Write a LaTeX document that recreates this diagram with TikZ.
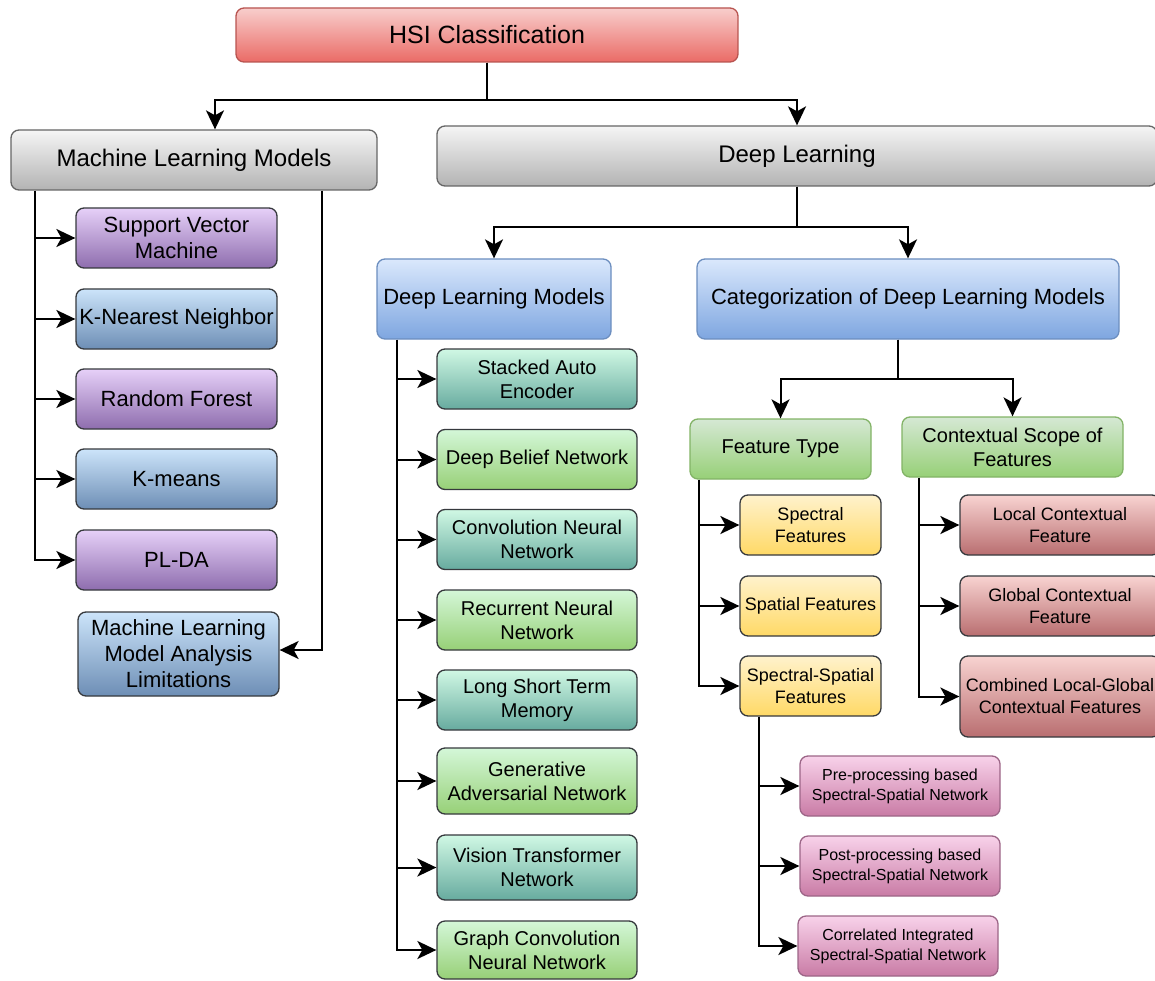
\documentclass[tikz,border=0pt]{standalone}
\usepackage{fontspec}
\setmainfont{Liberation Sans}
\usetikzlibrary{arrows.meta}

% fills: top / bottom / border
\definecolor{hsiT}{HTML}{F8CECC}\definecolor{hsiB}{HTML}{EA6B66}\definecolor{hsiD}{HTML}{B85450}
\definecolor{gryT}{HTML}{F5F5F5}\definecolor{gryB}{HTML}{B3B3B3}\definecolor{gryD}{HTML}{666666}
\definecolor{bluT}{HTML}{DAE8FC}\definecolor{bluB}{HTML}{7EA6E0}\definecolor{bluD}{HTML}{6C8EBF}
\definecolor{purT}{HTML}{E6D0F8}\definecolor{purB}{HTML}{8E6DAE}
\definecolor{lbT}{HTML}{CCE4FA}\definecolor{lbB}{HTML}{6D8EB5}
\definecolor{tlT}{HTML}{D0F8E4}\definecolor{tlB}{HTML}{67AB9F}
\definecolor{gnT}{HTML}{D4F7D8}\definecolor{gnB}{HTML}{97D077}
\definecolor{ftT}{HTML}{D5E8D4}\definecolor{ftB}{HTML}{97D077}\definecolor{ftD}{HTML}{82B366}
\definecolor{ylT}{HTML}{FFF2CC}\definecolor{ylB}{HTML}{FFD966}
\definecolor{rdT}{HTML}{F8D3D1}\definecolor{rdB}{HTML}{B96E70}
\definecolor{pkT}{HTML}{F8D2EA}\definecolor{pkB}{HTML}{C97BA5}\definecolor{pkD}{HTML}{9C6587}
\definecolor{edge}{HTML}{36393D}

\tikzset{
  box/.style={draw, rounded corners=8pt, line width=1.3pt, align=center, inner sep=2pt, text=black},
  fHSI/.style={top color=hsiT, bottom color=hsiB, draw=hsiD},
  fGray/.style={top color=gryT, bottom color=gryB, draw=gryD},
  fHead/.style={top color=bluT, bottom color=bluB, draw=bluD},
  fPurp/.style={top color=purT, bottom color=purB, draw=edge},
  fLblue/.style={top color=lbT, bottom color=lbB, draw=edge},
  fTeal/.style={top color=tlT, bottom color=tlB, draw=edge},
  fGreen/.style={top color=gnT, bottom color=gnB, draw=edge},
  fFeat/.style={top color=ftT, bottom color=ftB, draw=ftD},
  fYel/.style={top color=ylT, bottom color=ylB, draw=edge},
  fRed/.style={top color=rdT, bottom color=rdB, draw=edge},
  fPink/.style={top color=pkT, bottom color=pkB, draw=pkD},
  tA/.style={font=\fontsize{25}{30}\selectfont},
  tB/.style={font=\fontsize{24}{28}\selectfont},
  tC/.style={font=\fontsize{22}{26}\selectfont},
  tD/.style={font=\fontsize{20}{24}\selectfont},
  tE/.style={font=\fontsize{18}{22}\selectfont},
  tF/.style={font=\fontsize{16}{20}\selectfont},
  mlleaf/.style={box, tC, minimum width=201pt, minimum height=60pt},
  dlleaf/.style={box, tD, minimum width=200pt, minimum height=60pt},
  ftleaf/.style={box, tE, minimum width=141pt, minimum height=60pt},
  csleaf/.style={box, tE, minimum width=200pt, minimum height=60pt},
  ssleaf/.style={box, tF, minimum width=200pt, minimum height=60pt},
  ln/.style={line width=2pt, draw=black},
  arr/.style={ln, -{Stealth[length=19pt,width=18pt,inset=5pt]}},
}

\begin{document}
\begin{tikzpicture}[x=1pt, y=-1pt]
\useasboundingbox (0,0) rectangle (1155,981);
\clip (0,0) rectangle (1155,981);

% top levels
\node[box, fHSI, tA, minimum width=502pt, minimum height=54pt] (hsi) at (487,35) {HSI Classification};
\node[box, fGray, tB, minimum width=366pt, minimum height=60pt] (ml) at (194,160) {Machine Learning Models};
\node[box, fGray, tB, minimum width=720pt, minimum height=60pt] (dl) at (797,156) {Deep Learning};

\draw[arr] (hsi.south) -- ++(0,37) -| ([xshift=21pt]ml.north);
\draw[arr] (hsi.south) -- ++(0,37) -| (dl.north);

% machine learning branch
\node[mlleaf, fPurp]  (svm)  at (176.5,238) {Support Vector\\Machine};
\node[mlleaf, fLblue] (knn)  at (176.5,319) {K-Nearest Neighbor};
\node[mlleaf, fPurp]  (rf)   at (176.5,399) {Random Forest};
\node[mlleaf, fLblue] (km)   at (176.5,479) {K-means};
\node[mlleaf, fPurp]  (plda) at (176.5,560) {PL-DA};
\node[mlleaf, fLblue, minimum height=84pt] (mla) at (178.5,654) {Machine Learning\\Model Analysis\\Limitations};

\coordinate (mlbus) at ([xshift=25pt]ml.south west);
\draw[arr] (mlbus) |- (plda.west);
\foreach \n in {svm,knn,rf,km} \draw[arr] (mlbus |- \n.west) -- (\n.west);
\draw[arr] ([xshift=-56pt]ml.south east) |- ([yshift=4pt]mla.east);

% deep learning branch
\node[box, fHead, tC, minimum width=234pt, minimum height=80pt] (dlm) at (494,299) {Deep Learning Models};
\node[box, fHead, tC, minimum width=422pt, minimum height=80pt] (cat) at (908,299) {Categorization of Deep Learning Models};
\draw[arr] (dl.south) -- ++(0,40) -| (dlm.north);
\draw[arr] (dl.south) -- ++(0,40) -| (cat.north);

\node[dlleaf, fTeal]  (sae)  at (537,379)   {Stacked Auto\\Encoder};
\node[dlleaf, fGreen] (dbn)  at (537,459.5) {Deep Belief Network};
\node[dlleaf, fTeal]  (cnn)  at (537,539.5) {Convolution Neural\\Network};
\node[dlleaf, fGreen] (rnn)  at (537,620)   {Recurrent Neural\\Network};
\node[dlleaf, fTeal]  (lstm) at (537,700)   {Long Short Term\\Memory};
\node[dlleaf, fGreen, minimum height=66pt] (gan) at (537,781) {Generative\\Adversarial Network};
\node[dlleaf, fTeal,  minimum height=65pt] (vit) at (537,867.5) {Vision Transformer\\Network};
\node[dlleaf, fGreen, minimum height=58pt] (gcn) at (537,950) {Graph Convolution\\Neural Network};

\coordinate (dbus) at ([xshift=21pt]dlm.south west);
\draw[arr] (dbus) |- (gcn.west);
\foreach \n in {sae,dbn,cnn,rnn,lstm,gan,vit} \draw[arr] (dbus |- \n.west) -- (\n.west);

% categorization branch
\node[box, fFeat, tD, minimum width=181pt, minimum height=60pt] (ft) at (780.5,449) {Feature Type};
\node[box, fFeat, tD, minimum width=221pt, minimum height=60pt] (cs) at (1012.5,447) {Contextual Scope of\\Features};
\draw[arr] ([xshift=-10pt]cat.south) -- ++(0,39) -| (ft.north);
\draw[arr] ([xshift=-10pt]cat.south) -- ++(0,39) -| (cs.north);

\node[ftleaf, fYel] (spec) at (810.5,525) {Spectral\\Features};
\node[ftleaf, fYel] (spat) at (810.5,606) {Spatial Features};
\node[ftleaf, fYel] (ss)   at (810.5,686) {Spectral-Spatial\\Features};
\coordinate (fbus) at ([xshift=10pt]ft.south west);
\draw[arr] (fbus) |- (ss.west);
\foreach \n in {spec,spat} \draw[arr] (fbus |- \n.west) -- (\n.west);

\node[csleaf, fRed] (loc)  at (1060,525) {Local Contextual\\Feature};
\node[csleaf, fRed] (glob) at (1060,606) {Global Contextual\\Feature};
\node[csleaf, fRed, minimum height=81pt] (comb) at (1060,696.5) {Combined Local-Global\\Contextual Features};
\coordinate (cbus) at ([xshift=18pt]cs.south west);
\draw[arr] (cbus) |- (comb.west);
\foreach \n in {loc,glob} \draw[arr] (cbus |- \n.west) -- (\n.west);

% spectral-spatial networks
\node[ssleaf, fPink] (pre)  at (900,786) {Pre-processing based\\Spectral-Spatial Network};
\node[ssleaf, fPink] (post) at (900,866) {Post-processing based\\Spectral-Spatial Network};
\node[ssleaf, fPink] (corr) at (898,946) {Correlated Integrated\\Spectral-Spatial Network};
\coordinate (sbus) at ([xshift=20pt]ss.south west);
\draw[arr] (sbus) |- (corr.west);
\foreach \n in {pre,post} \draw[arr] (sbus |- \n.west) -- (\n.west);
\end{tikzpicture}
\end{document}
